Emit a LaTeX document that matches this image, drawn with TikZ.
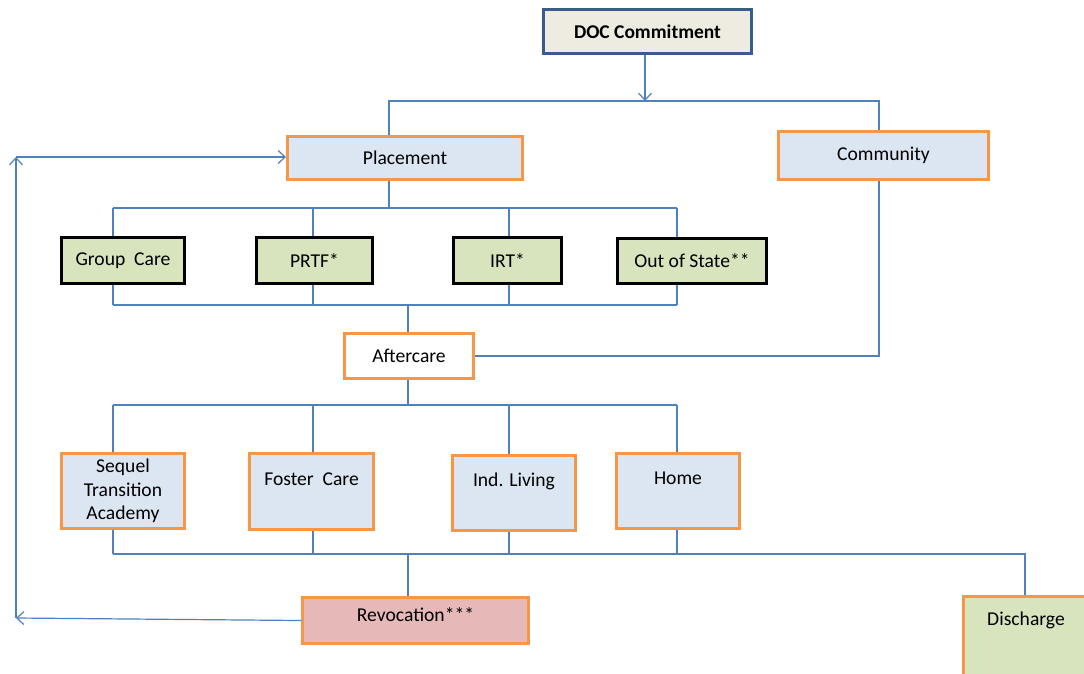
\documentclass[tikz,border=0pt]{standalone}
\definecolor{mylinkblue}{RGB}{79, 129, 189}
\definecolor{myorange}{RGB}{247, 150, 70}
\definecolor{mypaleblue}{RGB}{220, 230, 242}
\definecolor{mypalegreen}{RGB}{215, 228, 189}
\definecolor{mycream}{RGB}{238, 236, 225}
\definecolor{mynavy}{RGB}{56, 93, 138}
\definecolor{myrose}{RGB}{230, 185, 184}
\usepackage{fontspec}
\setmainfont{Carlito}
\usepackage{tikz}
\usetikzlibrary{arrows.meta}
\tikzset{every picture/.style={line width=0.75pt}}

\begin{document}
\begin{tikzpicture}[x=1pt,y=1pt,yscale=-1,xscale=1,
  box/.style={rectangle, inner sep=2pt, line width=3pt, align=center, font=\fontsize{19.6}{23.5}\selectfont},
  orangebox/.style={box, draw=myorange, fill=mypaleblue},
  greenbox/.style={box, draw=black, fill=mypalegreen},
  lift/.style={text height=13pt, text depth=#1},
  link/.style={draw=mylinkblue, line width=1.2pt},
  arrowlink/.style={link, -{Straight Barb[length=7pt,width=13pt]}}]
\clip (0,0) rectangle (1084,673); %set diagram size to 1084 x 673

%Shape: Rectangle [id:doc]
\node [box, draw=mynavy, fill=mycream, minimum width=208, minimum height=44, font=\fontsize{19.5}{23}\selectfont\bfseries] (doc) at (647.5,31.5) {DOC Commitment};
%Shape: Rectangle [id:placement]
\node [orangebox, minimum width=235, minimum height=43] (placement) at (405,158) {Placement};
%Shape: Rectangle [id:community]
\node [orangebox, minimum width=210, minimum height=48] (community) at (883.5,155.5) {Community};
%Shape: Rectangle [id:group]
\node [greenbox, minimum width=123, minimum height=46] (group) at (123,260.5) {Group\ \ Care};
%Shape: Rectangle [id:prtf]
\node [greenbox, minimum width=116, minimum height=46] (prtf) at (314.5,260.5) {PRTF*};
%Shape: Rectangle [id:irt]
\node [greenbox, minimum width=108, minimum height=46] (irt) at (507.5,260.5) {IRT*};
%Shape: Rectangle [id:oos]
\node [greenbox, minimum width=149, minimum height=45] (oos) at (692,261) {Out of State**};
%Shape: Rectangle [id:aftercare]
\node [box, draw=myorange, fill=white, minimum width=129, minimum height=45] (aftercare) at (409,356) {Aftercare};
%Shape: Rectangle [id:sequel]
\node [orangebox, minimum width=123, minimum height=75] (sequel) at (123,491) {Sequel\\Transition\\Academy};
%Shape: Rectangle [id:foster]
\node [orangebox, lift=26pt, minimum width=124, minimum height=76] (foster) at (311.5,491.5) {Foster\ \ Care};
%Shape: Rectangle [id:indliving]
\node [orangebox, lift=26pt, minimum width=123, minimum height=75] (indliving) at (514,493) {Ind. Living};
%Shape: Rectangle [id:home]
\node [orangebox, lift=26pt, minimum width=123, minimum height=75] (home) at (678,491) {Home};
%Shape: Rectangle [id:revocation]
\node [box, draw=myorange, fill=myrose, lift=12pt, minimum width=226, minimum height=46] (revocation) at (415.5,620.5) {Revocation***};
%Shape: Rectangle [id:discharge]
\node [box, draw=myorange, fill=mypalegreen, lift=40pt, minimum width=125, minimum height=84] (discharge) at (1026,638.5) {Discharge};

%Bus points
\coordinate (topbus-l) at (389,101);
\coordinate (topbus-r) at (879,101);
\coordinate (gtop-l) at (113,208);
\coordinate (gtop-r) at (677,208);
\coordinate (gbot-l) at (113,305);
\coordinate (gbot-r) at (677,305);
\coordinate (atop-l) at (113,405);
\coordinate (atop-r) at (677,405);
\coordinate (abot-l) at (113,554);
\coordinate (abot-r) at (1025,554);
\coordinate (fb-low) at (16,618);
\coordinate (fb-high) at (16,157);

%Straight Lines [id:doc-down]
\draw [arrowlink] (doc.south -| 645,0) -- (645,101);
%Straight Lines [id:topbus]
\draw [link] (placement.north -| topbus-l) -- (topbus-l) -- (topbus-r) -- (community.north -| topbus-r);
%Straight Lines [id:placement-down]
\draw [link] (placement.south -| topbus-l) -- (topbus-l |- gtop-l);
\draw [link] (gtop-l) -- (gtop-r);
\draw [link] (gbot-l) -- (gbot-r);
\foreach \n/\x in {group/113, prtf/313, irt/509, oos/677}
  {
  \draw [link] (\x,208) coordinate (d) -- (d |- \n.north);
  \draw [link] (\x,305) coordinate (d) -- (d |- \n.south);
  }
%Straight Lines [id:to-aftercare]
\draw [link] (aftercare.north -| 408,0) -- (408,305);
\draw [link] (community.south -| topbus-r) |- (aftercare.east);
%Straight Lines [id:aftercare-down]
\draw [link] (aftercare.south -| 408,0) -- (408,405);
\draw [link] (atop-l) -- (atop-r);
\draw [link] (abot-l) -- (abot-r) -- (discharge.north -| abot-r);
\foreach \n/\x in {sequel/113, foster/313, indliving/509, home/677}
  {
  \draw [link] (\x,405) coordinate (d) -- (d |- \n.north);
  \draw [link] (\x,554) coordinate (d) -- (d |- \n.south);
  }
%Straight Lines [id:to-revocation]
\draw [link] (revocation.north -| 408,0) -- (408,554);
%Straight Lines [id:feedback]
\draw [arrowlink] (revocation.west) -- (fb-low);
\draw [arrowlink] (fb-low) -- (fb-high);
\draw [arrowlink] (fb-high) -- (fb-high -| placement.west);

\end{tikzpicture}
\end{document}
